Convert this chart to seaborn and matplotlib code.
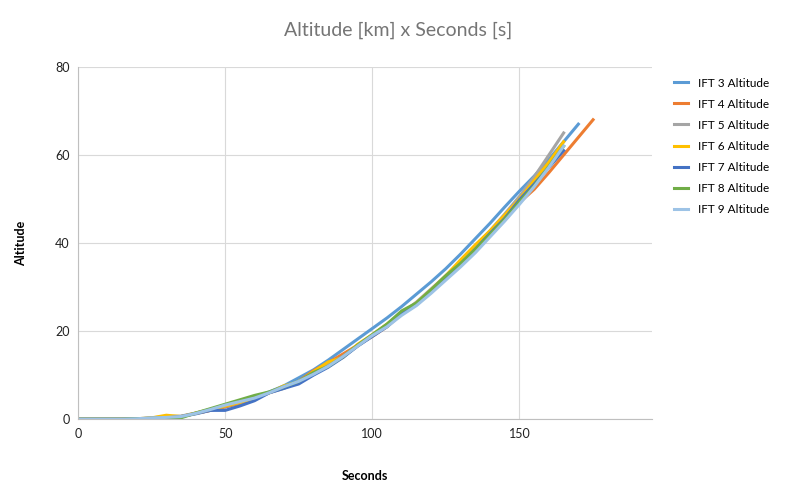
import matplotlib.pyplot as plt
import seaborn as sns
import pandas as pd

plt.rcParams['font.family'] = 'Lato'

# seconds sampled every 5 s
t_165 = list(range(0, 170, 5))
t_170 = list(range(0, 175, 5))
t_175 = list(range(0, 180, 5))

ift3 = [0, 0, 0, 0, 0.1, 0.2, 0.3, 0.6, 1.2, 2.0, 2.8, 3.6, 5.0, 6.2, 7.6, 9.4, 11.2,
        13.4, 15.8, 18.2, 20.6, 23.0, 25.6, 28.4, 31.2, 34.2, 37.5, 41.0, 44.5, 48.2,
        51.8, 55.2, 59.0, 63.0, 67.0]
ift4 = [0, 0, 0, 0, 0.1, 0.2, 0.3, 0.6, 1.3, 2.0, 2.8, 3.6, 4.6, 6.0, 7.2, 8.6,
        11.0, 12.8, 14.8, 16.8, 18.8, 21.0, 24.0, 26.2, 29.2, 32.2, 35.2, 38.4, 42.2,
        45.2, 49.2, 52.2, 56.0, 60.0, 64.0, 68.0]
ift5 = [0, 0, 0, 0, 0.1, 0.3, 0.6, 0.7, 1.4, 2.2, 3.0, 3.8, 4.8, 6.0, 7.0, 8.6, 10.4,
        12.4, 14.2, 16.6, 19.0, 21.4, 24.0, 26.6, 29.6, 32.6, 35.8, 39.2, 42.8, 46.6,
        50.6, 55.0, 60.0, 65.0]
ift6 = [0, 0, 0, 0, 0.1, 0.3, 0.9, 0.6, 1.4, 2.2, 3.0, 3.8, 4.8, 6.0, 7.6, 8.4, 10.8,
        13.0, 14.0, 17.0, 19.2, 21.6, 24.2, 26.4, 29.4, 32.6, 36.2, 39.6, 42.8, 46.4,
        50.0, 54.2, 58.4, 63.0]
ift7 = [0, 0, 0, 0, 0.1, 0.2, 0.3, 0.6, 1.3, 2.0, 2.0, 3.0, 4.2, 6.0, 7.0, 8.0, 10.0,
        11.8, 14.0, 16.6, 18.8, 21.0, 24.0, 26.0, 29.0, 32.0, 35.2, 38.6, 42.2, 45.6,
        49.8, 53.4, 57.2, 61.0]
ift8 = [0, 0, 0, 0, 0.1, 0.2, 0.3, 0.3, 1.4, 2.4, 3.4, 4.4, 5.4, 6.2, 7.4, 8.6, 10.6,
        12.0, 14.2, 16.8, 19.2, 21.6, 24.6, 26.4, 29.4, 32.6, 35.4, 38.6, 42.0, 45.4,
        49.4, 53.0, 57.4, 62.0]
ift9 = [0, 0, 0, 0, 0.1, 0.3, 0.4, 0.6, 1.3, 2.2, 3.2, 4.0, 4.8, 6.0, 7.4, 8.6, 10.2,
        12.0, 14.2, 16.6, 19.0, 21.0, 23.6, 25.8, 28.6, 31.6, 34.6, 37.8, 41.4, 45.0,
        48.8, 52.8, 57.2, 62.0]

series = {
    'IFT 3 Altitude': (t_170, ift3, '#5B9BD5'),
    'IFT 4 Altitude': (t_175, ift4, '#ED7D31'),
    'IFT 5 Altitude': (t_165, ift5, '#A5A5A5'),
    'IFT 6 Altitude': (t_165, ift6, '#FFC000'),
    'IFT 7 Altitude': (t_165, ift7, '#4472C4'),
    'IFT 8 Altitude': (t_165, ift8, '#70AD47'),
    'IFT 9 Altitude': (t_165, ift9, '#9DC3E6'),
}

fig = plt.figure(figsize=(7.96, 4.92), dpi=100)
ax = fig.add_axes([0.098, 0.148, 0.721, 0.716])

for name, (t, alt, color) in series.items():
    df = pd.DataFrame({'Seconds': t, 'Altitude': alt})
    sns.lineplot(data=df, x='Seconds', y='Altitude', color=color, linewidth=2.2, label=name, ax=ax)

ax.set_xlim(0, 195)
ax.set_ylim(0, 80)
ax.set_xticks([0, 50, 100, 150])
ax.set_yticks([0, 20, 40, 60, 80])
ax.grid(True, color='#d9d9d9', linewidth=0.8)
ax.set_axisbelow(True)
for s in ['top', 'right']:
    ax.spines[s].set_visible(False)
ax.spines['left'].set_color('#bfbfbf')
ax.spines['bottom'].set_color('#bfbfbf')
ax.tick_params(length=0, labelsize=9, colors='#222222', pad=6)
ax.set_xlabel('Seconds', fontsize=9, fontweight='bold', labelpad=22)
ax.set_ylabel('Altitude', fontsize=9, fontweight='bold', labelpad=20)
fig.suptitle('Altitude [km] x Seconds [s]', fontsize=14, color='#757575', y=0.955)

leg = ax.legend(loc='upper left', bbox_to_anchor=(1.02, 1.0), frameon=False,
                fontsize=8.5, handlelength=1.2, labelspacing=0.85)

fig.savefig('out.png', dpi=100)
